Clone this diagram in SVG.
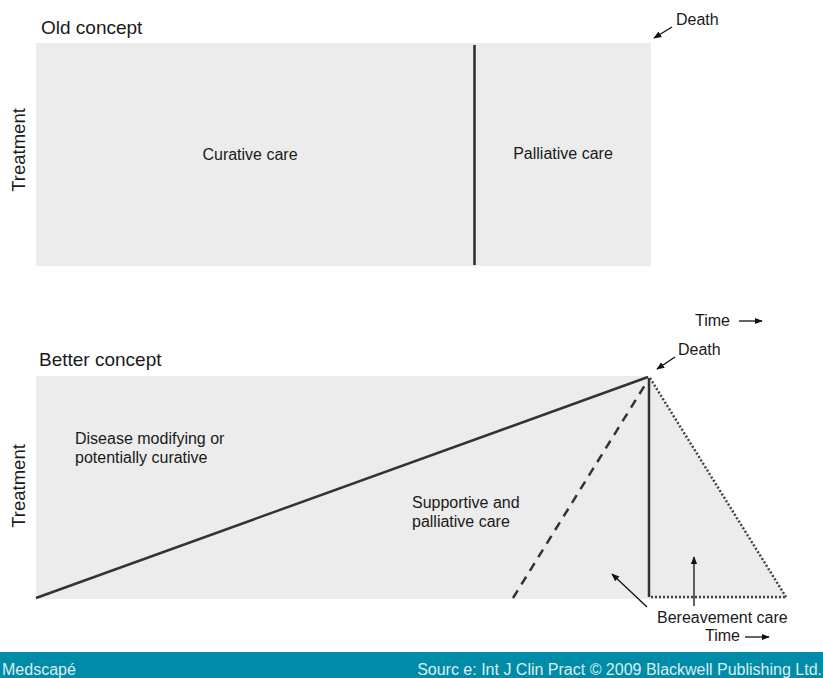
<svg xmlns="http://www.w3.org/2000/svg" width="823" height="678" viewBox="0 0 823 678">
<defs>
<marker id="ah" viewBox="0 0 10 10" refX="9" refY="5" markerWidth="8" markerHeight="8" markerUnits="userSpaceOnUse" orient="auto"><path d="M0,1 L10,5 L0,9 z" fill="#111"/></marker>
<style>
text{font-family:"Liberation Sans",Arial,sans-serif;fill:#1a1a1a}
.lbl{font-size:16px}
.ttl{font-size:19px}
.ax{font-size:18.5px}
.area{fill:#ebeceb}
.ptr{stroke:#111;stroke-width:1.3;fill:none;marker-end:url(#ah)}
.ft{font-size:16px;fill:#dcecef}
</style>
</defs>
<rect width="823" height="678" fill="#fff"/>
<g id="old-concept">
<text class="ttl" x="41" y="34">Old concept</text>
<rect class="area" x="36" y="43" width="615" height="223"/>
<text class="ax" transform="translate(25,150) rotate(-90)" text-anchor="middle">Treatment</text>
<text class="lbl" x="250" y="160" text-anchor="middle">Curative care</text>
<text class="lbl" x="563" y="159" text-anchor="middle">Palliative care</text>
<text class="lbl" x="676" y="25">Death</text>
<text class="lbl" x="695" y="326">Time</text>
</g>
<g id="better-concept">
<text class="ttl" x="39" y="366">Better concept</text>
<rect class="area" x="36" y="376" width="615" height="223"/>
<polygon class="area" points="649,376 788,599 649,599"/>
<text class="ax" transform="translate(25,486) rotate(-90)" text-anchor="middle">Treatment</text>
<text class="lbl" x="75" y="444">Disease modifying or</text>
<text class="lbl" x="75" y="463">potentially curative</text>
<text class="lbl" x="412" y="508">Supportive and</text>
<text class="lbl" x="412" y="527">palliative care</text>
<text class="lbl" x="678" y="355">Death</text>
<text class="lbl" x="657" y="623">Bereavement care</text>
<text class="lbl" x="705" y="641">Time</text>
</g>
<g id="connectors">
<line x1="474.5" y1="45" x2="474.5" y2="265" stroke="#2a2a2a" stroke-width="2.5"/>
<line x1="36" y1="598" x2="648" y2="377" stroke="#333" stroke-width="2.5"/>
<line x1="513" y1="598" x2="645" y2="385" stroke="#333" stroke-width="2.5" stroke-dasharray="9,7"/>
<line x1="649" y1="378" x2="649" y2="597" stroke="#333" stroke-width="2.5"/>
<line x1="650" y1="378" x2="786" y2="597" stroke="#444" stroke-width="2.5" stroke-dasharray="2,2"/>
<line x1="651" y1="597" x2="786" y2="597" stroke="#444" stroke-width="2.5" stroke-dasharray="2,2"/>
<line class="ptr" x1="672" y1="27" x2="654" y2="38"/>
<line class="ptr" x1="675" y1="357" x2="657" y2="369"/>
<line class="ptr" x1="739" y1="321" x2="762" y2="321"/>
<line class="ptr" x1="745" y1="637" x2="769" y2="637"/>
<line class="ptr" x1="647" y1="607" x2="612" y2="574"/>
<line class="ptr" x1="694" y1="606" x2="694" y2="557"/>
</g>
<g id="footer">
<rect x="0" y="652" width="823" height="26" fill="#008ca6"/>
<text class="ft" x="2" y="675">Medscapé</text>
<text class="ft" x="822" y="675" text-anchor="end">Sourc e: Int J Clin Pract © 2009 Blackwell Publishing Ltd.</text>
</g>
</svg>
